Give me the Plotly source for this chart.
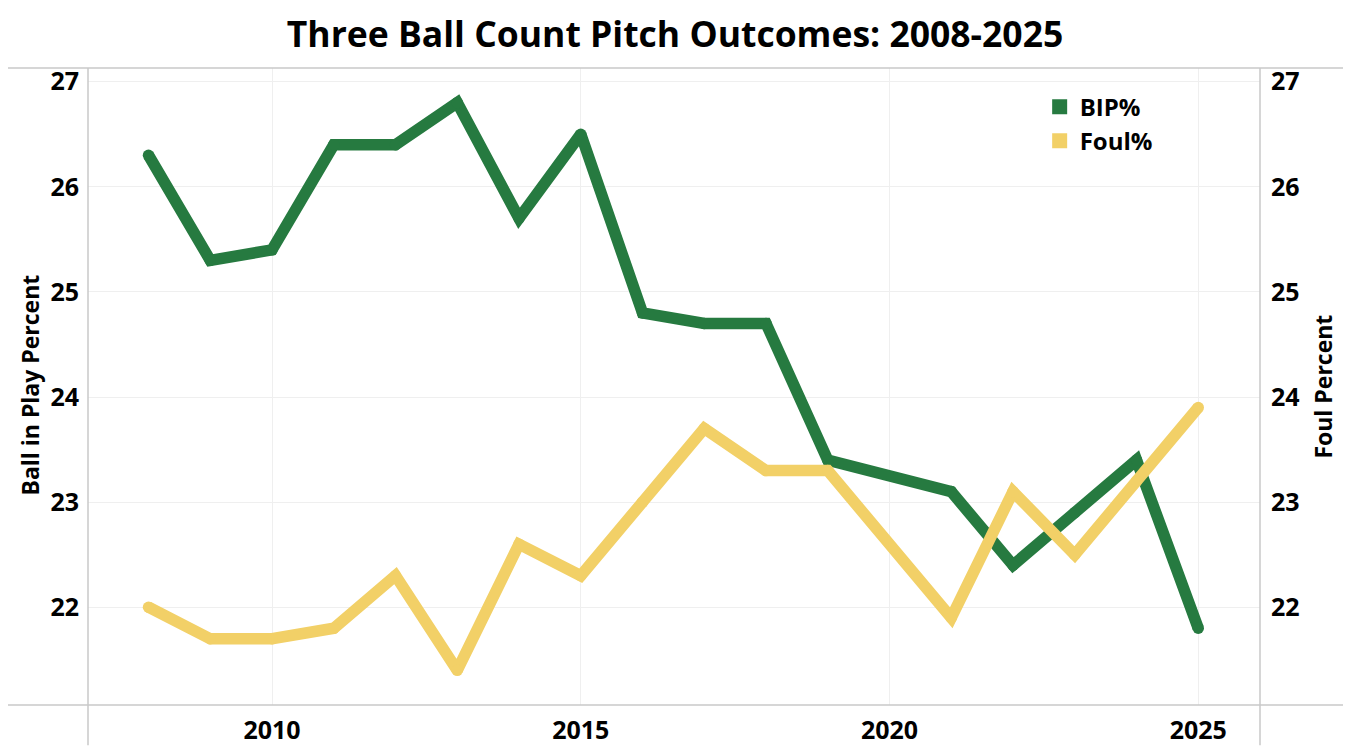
import plotly.graph_objects as go

# season-level three ball count outcomes
bip_years = [2008, 2009, 2010, 2011, 2012, 2013, 2014, 2015, 2016, 2017, 2018, 2019,
             2021, 2022, 2023, 2024, 2025]
bip_pct = [26.3, 25.3, 25.4, 26.4, 26.4, 26.8, 25.7, 26.5, 24.8, 24.7, 24.7, 23.4,
           23.1, 22.4, 22.9, 23.4, 21.8]

foul_years = bip_years
foul_pct = [22.0, 21.7, 21.7, 21.8, 22.3, 21.4, 22.6, 22.3, 23.0, 23.7, 23.3, 23.3,
            21.9, 23.1, 22.5, 23.2, 23.9]

x_ticks = [2010, 2015, 2020, 2025]
y_ticks = [22, 23, 24, 25, 26, 27]

GREEN = "#267a40"
YELLOW = "#f2d067"
FONT = "Open Sans"
BORDER = "#c8c8c8"

fig = go.Figure()

# lines (markers round off the ends / joins like the original)
fig.add_trace(go.Scatter(x=bip_years, y=bip_pct, mode="lines+markers",
                         line=dict(color=GREEN, width=11.5), marker=dict(color=GREEN, size=11.5),
                         showlegend=False, name="BIP%"))
fig.add_trace(go.Scatter(x=foul_years, y=foul_pct, mode="lines+markers", yaxis="y2",
                         line=dict(color=YELLOW, width=11.5), marker=dict(color=YELLOW, size=11.5),
                         showlegend=False, name="Foul%"))
# square legend swatches
fig.add_trace(go.Scatter(x=[None], y=[None], mode="markers", name="BIP%",
                         marker=dict(symbol="square", color=GREEN, size=15)))
fig.add_trace(go.Scatter(x=[None], y=[None], mode="markers", name="Foul%",
                         marker=dict(symbol="square", color=YELLOW, size=15)))

yrange = [21.07, 27.13]
tickfont = dict(family=FONT, size=25, color="black", weight="bold")
titlefont = dict(family=FONT, size=23, color="black", weight="bold")

fig.update_layout(
    width=1353, height=748,
    margin=dict(l=80, r=101, t=60, b=51),
    paper_bgcolor="white", plot_bgcolor="white",
    title=dict(text="Three Ball Count Pitch Outcomes: 2008-2025", x=0.493, xanchor="center",
               y=0.964, yanchor="middle",
               font=dict(family=FONT, size=35.5, color="black", weight="bold")),
    xaxis=dict(range=[2007.02, 2026.0], tickvals=x_ticks, tickfont=tickfont,
               showgrid=True, gridcolor="#efefef", gridwidth=1, zeroline=False,
               showline=False, ticks="", ticklabelstandoff=8, automargin=False),
    yaxis=dict(range=yrange, tickvals=y_ticks, tickfont=tickfont,
               showgrid=True, gridcolor="#efefef", gridwidth=1, zeroline=False,
               showline=False, ticks="", ticklabelstandoff=8, automargin=False),
    yaxis2=dict(range=yrange, tickvals=y_ticks, tickfont=tickfont, overlaying="y",
                side="right", showgrid=False, zeroline=False, showline=False, ticks="",
                ticklabelstandoff=10, automargin=False),
    legend=dict(x=0.812, y=0.974, xanchor="left", yanchor="top", bgcolor="rgba(0,0,0,0)",
                font=dict(family=FONT, size=24, color="black", weight="bold"),
                itemwidth=30, tracegroupgap=0),
)

# axis titles
fig.add_annotation(text="Ball in Play Percent", xref="paper", yref="paper", x=-0.0495, y=0.503,
                   xanchor="center", yanchor="middle",
                   textangle=-90, showarrow=False, font=titlefont)
fig.add_annotation(text="Foul Percent", xref="paper", yref="paper", x=1.053, y=0.5,
                   xanchor="center", yanchor="middle",
                   textangle=-90, showarrow=False, font=titlefont)

# pane borders like the original dashboard
fig.add_shape(type="line", xref="paper", yref="paper", x0=-0.0725, x1=1.0708, y0=1, y1=1,
              line=dict(color=BORDER, width=1.5))
fig.add_shape(type="line", xref="paper", yref="paper", x0=-0.0725, x1=1.0708, y0=0, y1=0,
              line=dict(color=BORDER, width=1.5))
fig.add_shape(type="line", xref="paper", yref="paper", x0=0, x1=0, y0=-0.063, y1=1,
              line=dict(color=BORDER, width=1.5))
fig.add_shape(type="line", xref="paper", yref="paper", x0=1, x1=1, y0=-0.063, y1=1,
              line=dict(color=BORDER, width=1.5))

fig.write_html("out.html")
